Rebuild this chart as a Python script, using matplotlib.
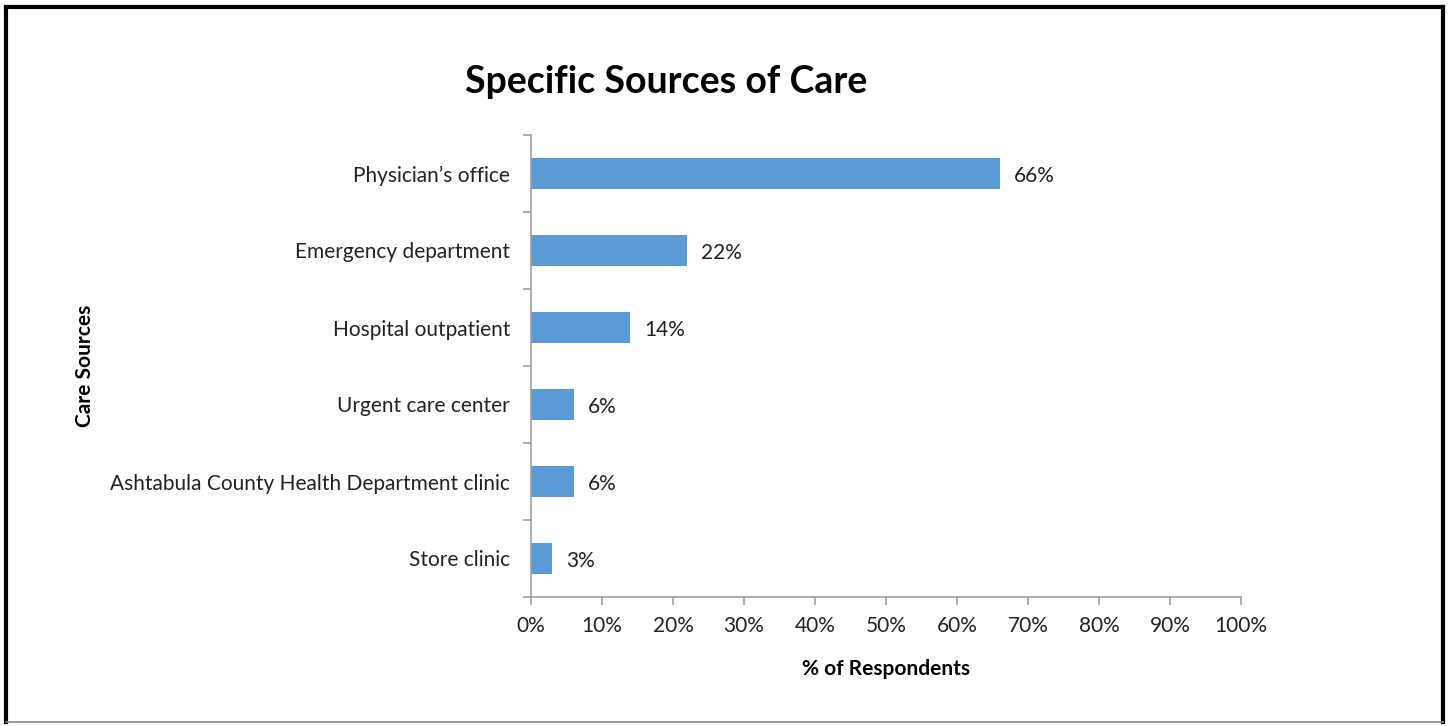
import matplotlib
matplotlib.use("Agg")
import matplotlib.pyplot as plt
from matplotlib.lines import Line2D
from matplotlib.ticker import FixedLocator, PercentFormatter

categories = ["Physician\u2019s office", "Emergency department", "Hospital outpatient",
              "Urgent care center", "Ashtabula County Health Department clinic", "Store clinic"]
values = [66, 22, 14, 6, 6, 3]
xticks = [0, 10, 20, 30, 40, 50, 60, 70, 80, 90, 100]

plt.rcParams['font.family'] = ['Lato', 'DejaVu Sans']

fig = plt.figure(figsize=(14.5, 7.26), dpi=100)
ax = fig.add_axes([531/1450, 1-597/726, 710/1450, 462/726])

n = len(categories)
ypos = list(range(n))[::-1]
ax.barh(ypos, values, height=0.4, color="#5B9BD5")
for y, v in zip(ypos, values):
    ax.text(v + 2, y - 0.03, f"{v}%", va="center", ha="left", fontsize=15, color="#222222")

ax.set_xlim(0, 100)
ax.set_ylim(-0.5, n - 0.5)
ax.set_xticks(xticks)
ax.xaxis.set_major_formatter(PercentFormatter(decimals=0))
ax.set_yticks(ypos)
ax.set_yticklabels(categories)
ax.yaxis.set_minor_locator(FixedLocator([i - 0.5 for i in range(n + 1)]))
ax.tick_params(axis="y", which="major", length=0, pad=15, labelsize=15, labelcolor="#222222")
ax.tick_params(axis="y", which="minor", length=6, color="#a0a0a0", width=1.2)
ax.tick_params(axis="x", which="major", length=6, color="#a0a0a0", width=1.2,
               labelsize=15, labelcolor="#222222", pad=8)

for s in ["top", "right"]:
    ax.spines[s].set_visible(False)
for s in ["left", "bottom"]:
    ax.spines[s].set_color("#a0a0a0")
    ax.spines[s].set_linewidth(1.2)

ax.set_xlabel("% of Respondents", fontsize=15, fontweight="bold", labelpad=16)
fig.text(85/1450, 1-366/726, "Care Sources", rotation=90, fontsize=15, fontweight="bold",
         ha="center", va="center")
fig.text(666/1450, 1-82/726, "Specific Sources of Care", fontsize=27, fontweight="bold",
         ha="center", va="center")

# outer frame: black top/left/right, thin grey bottom
L, R, T, B = 6/1450, 1443/1450, 1-7/726, 1-722/726
fig.add_artist(Line2D([L, R], [T, T], color="black", lw=3, transform=fig.transFigure))
fig.add_artist(Line2D([L, L], [B, T], color="black", lw=3, transform=fig.transFigure))
fig.add_artist(Line2D([R, R], [B, T], color="black", lw=3, transform=fig.transFigure))
fig.add_artist(Line2D([L, R], [B, B], color="#888888", lw=1.2, transform=fig.transFigure))

fig.savefig("out.png", dpi=100)
